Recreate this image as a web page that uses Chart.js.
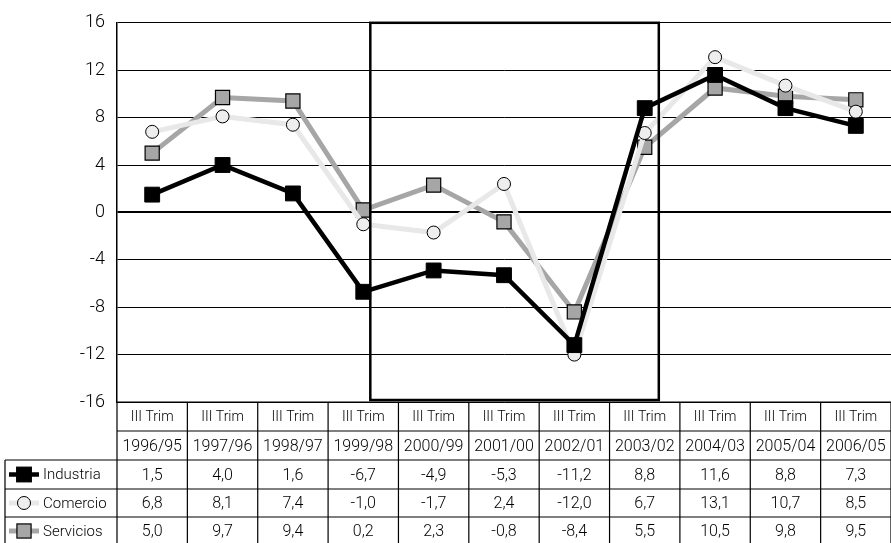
<!DOCTYPE html>
<html><head><meta charset="utf-8">
<script src="https://cdn.jsdelivr.net/npm/chart.js@4"></script>
<style>html,body{margin:0;padding:0;background:#fff;overflow:hidden}#wrap{width:891px;height:543px;position:relative}</style>
</head><body><div id="wrap"><canvas id="c"></canvas></div>
<script>
const quarterLabels = ['III Trim','III Trim','III Trim','III Trim','III Trim','III Trim','III Trim','III Trim','III Trim','III Trim','III Trim'];
const periods = ['1996/95','1997/96','1998/97','1999/98','2000/99','2001/00','2002/01','2003/02','2004/03','2005/04','2006/05'];
const industria = [1.5, 4.0, 1.6, -6.7, -4.9, -5.3, -11.2, 8.8, 11.6, 8.8, 7.3];
const comercio  = [6.8, 8.1, 7.4, -1.0, -1.7, 2.4, -12.0, 6.7, 13.1, 10.7, 8.5];
const servicios = [5.0, 9.7, 9.4, 0.2, 2.3, -0.8, -8.4, 5.5, 10.5, 9.8, 9.5];
const seriesNames = ['Industria','Comercio','Servicios'];
const yTicks = [16, 12, 8, 4, 0, -4, -8, -12, -16];

const FONT = "Roboto, 'Open Sans', sans-serif";
const fmt = v => v.toFixed(1).replace('.', ',');

const styles = [
  {line:'#000000', lw:4.5, style:'rect', fill:'#000000', border:'#000000', r:10.5, bw:1},
  {line:'#e8e8e8', lw:5, style:'circle', fill:'#eeeeee', border:'#000000', r:6.5, bw:1},
  {line:'#a6a6a6', lw:5, style:'rect', fill:'#a6a6a6', border:'#000000', r:10, bw:1.2}
];
const seriesData = [industria, comercio, servicios];

const boxPlugin = {
  id: 'box',
  afterDatasetsDraw(chart) {
    const {ctx, chartArea: ca, scales: {x}} = chart;
    const px = v => { const i = Math.floor(v); const f = v - i; return x.getPixelForValue(i) + f * (x.getPixelForValue(i + 1) - x.getPixelForValue(i)); };
    const x0 = px(3.1), x1 = px(7.2);
    ctx.save();
    ctx.strokeStyle = '#000'; ctx.lineWidth = 2.5;
    ctx.strokeRect(x0, ca.top, x1 - x0, ca.bottom - ca.top - 2);
    ctx.restore();
  }
};

const tablePlugin = {
  id: 'table',
  afterDraw(chart) {
    const {ctx, chartArea: ca, scales: {x}} = chart;
    const n = periods.length;
    const w = x.getPixelForValue(1) - x.getPixelForValue(0);
    const rows = [ca.bottom, ca.bottom + 29, ca.bottom + 58, ca.bottom + 87, ca.bottom + 115, ca.bottom + 143];
    const leftX = 5;
    ctx.save();
    ctx.strokeStyle = '#000'; ctx.lineWidth = 1.2;
    ctx.beginPath();
    ctx.moveTo(ca.left, rows[0]); ctx.lineTo(ca.right, rows[0]);
    ctx.moveTo(ca.left, rows[1]); ctx.lineTo(ca.right, rows[1]);
    for (let r = 2; r <= 4; r++) { ctx.moveTo(leftX, rows[r]); ctx.lineTo(ca.right, rows[r]); }
    for (let i = 0; i <= n; i++) {
      const xx = x.getPixelForValue(i) - w / 2;
      ctx.moveTo(xx, rows[0]); ctx.lineTo(xx, rows[5]);
    }
    ctx.moveTo(leftX, rows[2]); ctx.lineTo(leftX, rows[5]);
    ctx.stroke();
    ctx.fillStyle = '#000';
    ctx.textAlign = 'center'; ctx.textBaseline = 'middle';
    for (let i = 0; i < n; i++) {
      const cx = x.getPixelForValue(i);
      ctx.font = '300 14px ' + FONT;
      ctx.fillText(quarterLabels[i], cx, (rows[0] + rows[1]) / 2 + 1);
      ctx.font = '300 16px ' + FONT;
      ctx.fillText(periods[i], cx, (rows[1] + rows[2]) / 2 + 1);
      for (let s = 0; s < 3; s++) {
        ctx.fillText(fmt(seriesData[s][i]), cx, (rows[2 + s] + rows[3 + s]) / 2 + 1);
      }
    }
    ctx.font = '300 15px ' + FONT;
    for (let s = 0; s < 3; s++) {
      const cy = (rows[2 + s] + rows[3 + s]) / 2;
      const st = styles[s];
      ctx.strokeStyle = st.line; ctx.lineWidth = st.lw;
      ctx.beginPath(); ctx.moveTo(9, cy); ctx.lineTo(39, cy); ctx.stroke();
      ctx.fillStyle = st.fill; ctx.strokeStyle = st.border; ctx.lineWidth = st.bw;
      if (st.style === 'rect') {
        const h = st.r * Math.SQRT1_2;
        ctx.fillRect(24 - h, cy - h, 2 * h, 2 * h);
        ctx.strokeRect(24 - h, cy - h, 2 * h, 2 * h);
      } else {
        ctx.beginPath(); ctx.arc(24, cy, st.r, 0, Math.PI * 2); ctx.fill(); ctx.stroke();
      }
      ctx.fillStyle = '#000'; ctx.textAlign = 'left';
      ctx.fillText(seriesNames[s], 43, cy + 1);
    }
    ctx.restore();
  }
};

new Chart(document.getElementById('c'), {
  type: 'line',
  data: {
    labels: periods,
    datasets: seriesData.map((d, s) => ({
      label: seriesNames[s],
      data: d,
      borderColor: styles[s].line,
      borderWidth: styles[s].lw,
      pointStyle: styles[s].style,
      pointRadius: styles[s].r,
      pointBackgroundColor: styles[s].fill,
      pointBorderColor: styles[s].border,
      pointBorderWidth: styles[s].bw,
      tension: 0,
      fill: false,
      clip: false
    }))
  },
  options: {
    responsive: true,
    maintainAspectRatio: false,
    animation: false,
    layout: {autoPadding: false, padding: {top: 21, bottom: 141, left: 0, right: 0}},
    plugins: {legend: {display: false}, tooltip: {enabled: false}},
    scales: {
      x: {type: 'category', offset: true, display: false},
      y: {
        min: -16, max: 16,
        afterFit(scale) { scale.width = 117; },
        afterBuildTicks(scale) { scale.ticks = yTicks.map(v => ({value: v})); },
        ticks: {color: '#000', font: {family: FONT, size: 18, weight: '300'}, padding: 12},
        grid: {color: '#000', lineWidth: c => (c.tick && c.tick.value === 0 ? 2 : 1), drawTicks: false},
        border: {display: true, color: '#000', width: 1.5}
      }
    }
  },
  plugins: [boxPlugin, tablePlugin]
});
</script>
</body></html>
